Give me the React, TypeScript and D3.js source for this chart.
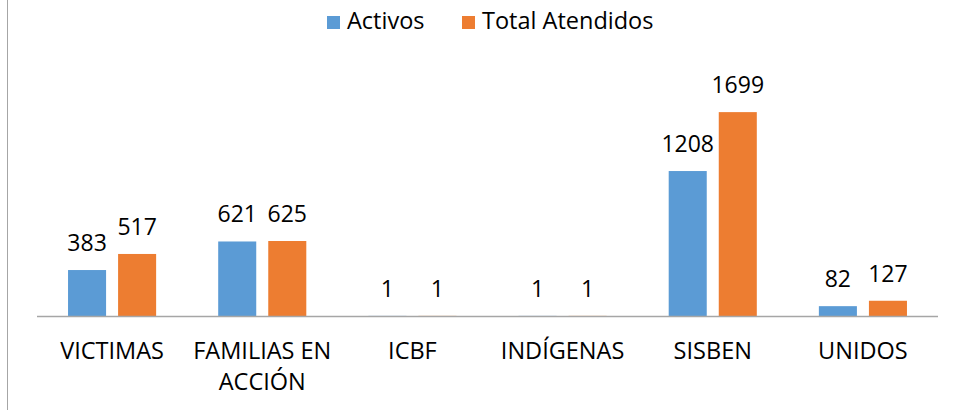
import React from "react";
import * as d3 from "d3";

const categories = ["VICTIMAS", "FAMILIAS EN ACCIÓN", "ICBF", "INDÍGENAS", "SISBEN", "UNIDOS"];
const categoryLines = [["VICTIMAS"], ["FAMILIAS EN", "ACCIÓN"], ["ICBF"], ["INDÍGENAS"], ["SISBEN"], ["UNIDOS"]];
const seriesNames = ["Activos", "Total Atendidos"];
const activos = [383, 621, 1, 1, 1208, 82];
const totalAtendidos = [517, 625, 1, 1, 1699, 127];
const colors = ["#5B9BD5", "#ED7D31"];

const W = 954;
const H = 410;
const FONT = "'Open Sans', sans-serif";

export default function App() {
  const x = d3.scaleBand<string>().domain(categories).range([37, 938]).paddingInner(0).paddingOuter(0);
  const x1 = d3.scaleBand<string>().domain(seriesNames).range([0, x.bandwidth()]).paddingInner(0.24).paddingOuter(0.62);
  const y = d3.scaleLinear().domain([0, 2000]).range([316, 76]);
  const series = [activos, totalAtendidos];

  return (
    <svg width={W} height={H} style={{ position: "absolute", left: 0, top: 0, background: "#fff" }} fontFamily={FONT}>
      <rect x={0} y={0} width={W} height={H} fill="#fff" />
      <line x1={7.5} x2={7.5} y1={0} y2={H} stroke="#A6A6A6" strokeWidth={1} />
      {/* legend */}
      {seriesNames.map((s, i) => {
        const lx = i === 0 ? 327 : 462;
        return (
          <g key={s}>
            <rect x={lx} y={16} width={13} height={13} fill={colors[i]} />
            <text x={lx + 20} y={29} fontSize={23.5} fill="#000">{s}</text>
          </g>
        );
      })}
      {/* bars */}
      {categories.map((c, ci) => (
        <g key={c}>
          {series.map((vals, si) => {
            const bx = (x(c) as number) + (x1(seriesNames[si]) as number);
            const bw = x1.bandwidth();
            const v = vals[ci];
            return (
              <g key={si}>
                <rect x={bx} y={y(v)} width={bw} height={y(0) - y(v)} fill={colors[si]} />
                <text x={bx + bw / 2} y={y(v) - 19} textAnchor="middle" fontSize={23} fill="#000">{v}</text>
              </g>
            );
          })}
        </g>
      ))}
      {/* axis */}
      <line x1={37} x2={938} y1={316.5} y2={316.5} stroke="#A6A6A6" strokeWidth={1.5} />
      {categories.map((c, ci) => (
        <text key={c} x={(x(c) as number) + x.bandwidth() / 2} y={359} textAnchor="middle" fontSize={23.5} fill="#000">
          {categoryLines[ci].map((ln, li) => (
            <tspan key={li} x={(x(c) as number) + x.bandwidth() / 2} dy={li === 0 ? 0 : 31}>{ln}</tspan>
          ))}
        </text>
      ))}
    </svg>
  );
}
